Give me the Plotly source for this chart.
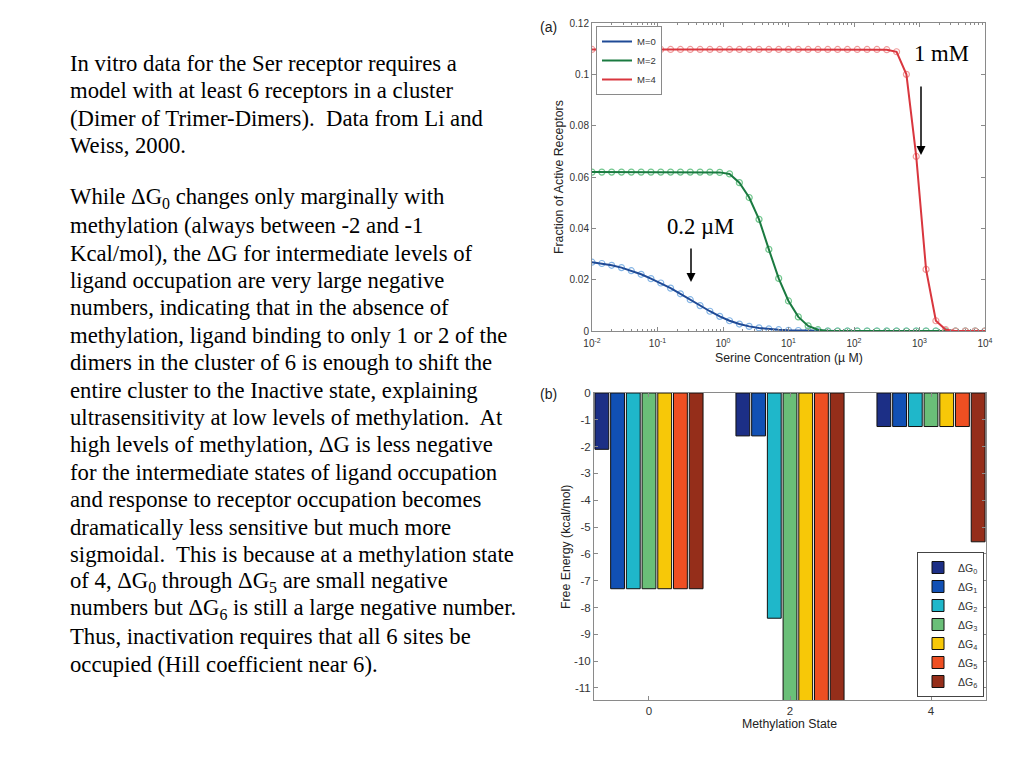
import plotly.graph_objects as go

# ---------------- data: panel (a) ----------------
log_conc = [-2.0, -1.85, -1.7, -1.55, -1.4, -1.25, -1.1, -0.95, -0.8, -0.65,
            -0.5, -0.35, -0.2, -0.05, 0.1, 0.25, 0.4, 0.55, 0.7, 0.85,
            1.0, 1.15, 1.3, 1.45, 1.6, 1.75, 1.9, 2.05, 2.2, 2.35,
            2.5, 2.65, 2.8, 2.95, 3.1, 3.25, 3.4, 3.55, 3.7, 3.85, 4.0]

frac_m0 = [0.0268, 0.0263, 0.0256, 0.0247, 0.0235, 0.0221, 0.0204, 0.0187, 0.0167, 0.0145,
           0.0122, 0.0099, 0.0077, 0.0057, 0.0040, 0.0027, 0.0018, 0.0012, 0.0008, 0.0005,
           0.0003, 0.0002, 0.0001, 0.0, 0.0, 0.0, 0.0, 0.0, 0.0, 0.0,
           0.0, 0.0, 0.0, 0.0, 0.0, 0.0, 0.0, 0.0, 0.0, 0.0, 0.0]

frac_m2 = [0.0619, 0.0619, 0.0619, 0.0619, 0.0619, 0.0619, 0.0619, 0.0619, 0.0619, 0.0619,
           0.0619, 0.0619, 0.0619, 0.0618, 0.0612, 0.0578, 0.0520, 0.0435, 0.0318, 0.0205,
           0.0117, 0.0055, 0.0020, 0.0005, 0.0, 0.0, 0.0, 0.0, 0.0, 0.0,
           0.0, 0.0, 0.0, 0.0, 0.0, 0.0, 0.0, 0.0, 0.0, 0.0, 0.0]

frac_m4 = [0.1097, 0.1097, 0.1097, 0.1097, 0.1097, 0.1097, 0.1097, 0.1097, 0.1097, 0.1097,
           0.1097, 0.1097, 0.1097, 0.1097, 0.1097, 0.1097, 0.1097, 0.1097, 0.1097, 0.1097,
           0.1097, 0.1097, 0.1097, 0.1097, 0.1097, 0.1097, 0.1097, 0.1097, 0.1097, 0.1097,
           0.1096, 0.1088, 0.1000, 0.0680, 0.0240, 0.0040, 0.0005, 0.0, 0.0, 0.0, 0.0]

series_names = ["M=0", "M=2", "M=4"]
x_tick_vals = [0.01, 0.1, 1, 10, 100, 1000, 10000]
x_tick_text = ["10<sup>-2</sup>", "10<sup>-1</sup>", "10<sup>0</sup>", "10<sup>1</sup>",
               "10<sup>2</sup>", "10<sup>3</sup>", "10<sup>4</sup>"]
y_tick_vals_a = [0, 0.02, 0.04, 0.06, 0.08, 0.1, 0.12]
y_tick_text_a = ["0", "0.02", "0.04", "0.06", "0.08", "0.1", "0.12"]

# ---------------- data: panel (b) ----------------
methylation_states = [0, 2, 4]
dg_names = ["ΔG<sub>0</sub>", "ΔG<sub>1</sub>", "ΔG<sub>2</sub>", "ΔG<sub>3</sub>",
            "ΔG<sub>4</sub>", "ΔG<sub>5</sub>", "ΔG<sub>6</sub>"]
dG0 = [-2.1, -1.6, -1.25]
dG1 = [-7.3, -1.6, -1.25]
dG2 = [-7.3, -8.4, -1.25]
dG3 = [-7.3, -14.0, -1.25]
dG4 = [-7.3, -14.0, -1.25]
dG5 = [-7.3, -14.0, -1.25]
dG6 = [-7.3, -14.0, -5.55]
y_tick_vals_b = [0, -1, -2, -3, -4, -5, -6, -7, -8, -9, -10, -11]
y_tick_text_b = ["0", "-1", "-2", "-3", "-4", "-5", "-6", "-7", "-8", "-9", "-10", "-11"]

# ---------------- slide text ----------------
para1 = [
    "In vitro data for the Ser receptor requires a",
    "model with at least 6 receptors in a cluster",
    "(Dimer of Trimer-Dimers).\u00a0 Data from Li and",
    "Weiss, 2000.",
]
para2 = [
    "While ΔG<sub>0</sub> changes only marginally with",
    "methylation (always between -2 and -1",
    "Kcal/mol), the ΔG for intermediate levels of",
    "ligand occupation are very large negative",
    "numbers, indicating that in the absence of",
    "methylation, ligand binding to only 1 or 2 of the",
    "dimers in the cluster of 6 is enough to shift the",
    "entire cluster to the Inactive state, explaining",
    "ultrasensitivity at low levels of methylation.\u00a0 At",
    "high levels of methylation, ΔG is less negative",
    "for the intermediate states of ligand occupation",
    "and response to receptor occupation becomes",
    "dramatically less sensitive but much more",
    "sigmoidal.\u00a0 This is because at a methylation state",
    "of 4, ΔG<sub>0</sub> through ΔG<sub>5</sub> are small negative",
    "numbers but ΔG<sub>6</sub> is still a large negative number.",
    "Thus, inactivation requires that all 6 sites be",
    "occupied (Hill coefficient near 6).",
]

# ---------------- helpers / styles ----------------
# the page body adds an 8px margin, so the figure is sized to the visible area
OFF = 8
W, H = 1024 - OFF, 768 - OFF
def px(x):
    return (x - OFF) / W
def py(y):
    return 1 - (y - OFF) / H

line_colors = ["#1f4a96", "#1a7a40", "#d9363e"]
marker_colors = ["#86b6e6", "#72c78e", "#f09a9a"]
bar_colors = ["#1c2f86", "#1150b4", "#1fb7ca", "#6abf78", "#f7c808", "#ee4f22", "#952e1a"]
axis_col = "#8a8a8a"
serif = "Liberation Serif, Times New Roman, serif"
sans = "Liberation Sans, Arial, sans-serif"
tick_font_a = dict(family=sans, size=10, color="#333333")
tick_font_b = dict(family=sans, size=11.5, color="#333333")
title_font = dict(family=sans, size=12.3, color="#222222")
body_size = 22.7

conc = [10 ** e for e in log_conc]

fig = go.Figure()

for name, yv, lc, mc in zip(series_names, [frac_m0, frac_m2, frac_m4],
                            line_colors, marker_colors):
    fig.add_trace(go.Scatter(x=conc, y=yv, mode="markers", xaxis="x", yaxis="y",
                             marker=dict(symbol="circle-open", size=6, color=mc,
                                         line=dict(width=1.2, color=mc)),
                             showlegend=False, hoverinfo="skip"))
    fig.add_trace(go.Scatter(x=conc, y=yv, mode="lines", xaxis="x", yaxis="y",
                             line=dict(color=lc, width=2), name=name, legend="legend"))

for name, vals, col in zip(dg_names, [dG0, dG1, dG2, dG3, dG4, dG5, dG6], bar_colors):
    fig.add_trace(go.Bar(x=methylation_states, y=vals, name=name, xaxis="x2", yaxis="y2",
                         marker=dict(color=col, line=dict(color="#111111", width=1)),
                         legend="legend2"))

def label(x, y, text, font, xanchor="center", yanchor="middle", angle=0):
    return dict(x=px(x), y=py(y), xref="paper", yref="paper", text=text,
                showarrow=False, xanchor=xanchor, yanchor=yanchor, textangle=angle,
                font=font)

body_font = dict(family=serif, size=body_size, color="black")
annotations = []
for i, t in enumerate(para1):
    annotations.append(label(68, 63.3 + 27.4 * i, t, body_font, xanchor="left"))
for i, t in enumerate(para2):
    annotations.append(label(68, 198.3 + 27.4 * i, t, body_font, xanchor="left"))

# panel labels
panel_font = dict(family=sans, size=14, color="#222")
annotations.append(label(548, 27, "(a)", panel_font))
annotations.append(label(548, 394, "(b)", panel_font))
# axis titles
annotations.append(label(559, 177, "Fraction of Active Receptors", title_font, angle=-90))
annotations.append(label(789, 358, "Serine Concentration (µ M)", title_font))
annotations.append(label(566, 547, "Free Energy (kcal/mol)", title_font, angle=-90))
annotations.append(label(789, 724, "Methylation State", title_font))
# callouts
annotations.append(label(941, 54, "1 mM", body_font))
annotations.append(dict(x=px(921), y=py(155), xref="paper", yref="paper", text="",
                        showarrow=True, ax=0, ay=-70, arrowhead=2, arrowsize=1.2,
                        arrowwidth=1.5, arrowcolor="black"))
annotations.append(label(700, 226, "0.2 µM", body_font))
annotations.append(dict(x=px(691), y=py(282), xref="paper", yref="paper", text="",
                        showarrow=True, ax=0, ay=-35, arrowhead=2, arrowsize=1.2,
                        arrowwidth=1.5, arrowcolor="black"))

common_axis = dict(showline=True, linecolor=axis_col, linewidth=1, mirror="ticks",
                   ticks="inside", ticklen=4, tickcolor=axis_col, showgrid=False,
                   zeroline=False, automargin=False)

fig.update_layout(
    width=W, height=H,
    margin=dict(l=0, r=0, t=0, b=0, pad=0, autoexpand=False),
    paper_bgcolor="white", plot_bgcolor="white",
    barmode="group", bargap=0.22, bargroupgap=0.12,
    xaxis=dict(domain=[px(592), px(985)], anchor="y", type="log", range=[-2, 4],
               tickvals=x_tick_vals, ticktext=x_tick_text, tickfont=tick_font_a,
               ticklabelstandoff=3,
               minor=dict(ticks="inside", ticklen=2, tickcolor=axis_col, dtick="D1"),
               **common_axis),
    yaxis=dict(domain=[py(331), py(23)], anchor="x", range=[0, 0.12],
               tickvals=y_tick_vals_a, ticktext=y_tick_text_a, tickfont=tick_font_a,
               **common_axis),
    xaxis2=dict(domain=[px(594), px(986)], anchor="y2", range=[-0.78, 4.78],
                tickvals=methylation_states, ticktext=[str(m) for m in methylation_states],
                tickfont=tick_font_b, **common_axis),
    yaxis2=dict(domain=[py(700), py(393)], anchor="x2", range=[-11.45, 0],
                tickvals=y_tick_vals_b, ticktext=y_tick_text_b, tickfont=tick_font_b,
                **common_axis),
    legend=dict(x=px(596), y=py(26), xanchor="left", yanchor="top",
                bgcolor="white", bordercolor=axis_col, borderwidth=1,
                font=dict(family=sans, size=9.5, color="#333"), tracegroupgap=0,
                itemwidth=30),
    legend2=dict(x=px(917), y=py(697), xanchor="left", yanchor="bottom",
                 bgcolor="white", bordercolor="#444", borderwidth=1,
                 font=dict(family=sans, size=10.5, color="#333"), tracegroupgap=0),
    annotations=annotations,
    showlegend=True,
)

fig.write_html("out.html")
